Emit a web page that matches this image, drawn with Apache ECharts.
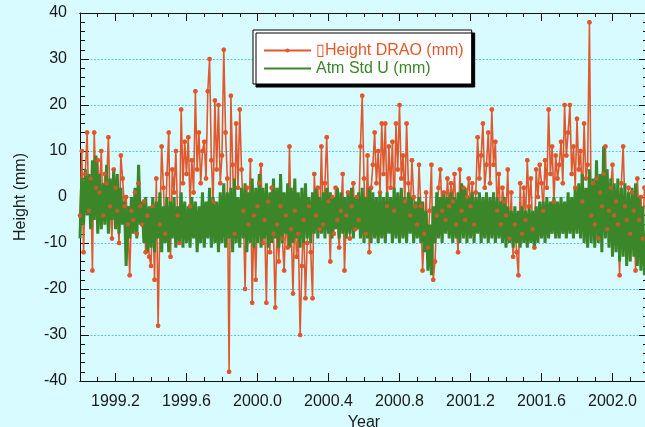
<!DOCTYPE html>
<html>
<head>
<meta charset="utf-8">
<script src="https://cdn.jsdelivr.net/npm/echarts@6/dist/echarts.min.js"></script>
<style>
html,body{margin:0;padding:0;background:#d8fbff;}
#chart{width:645px;height:427px;}
</style>
</head>
<body>
<div id="chart"></div>
<script>
// ---- data ----
const startYear = 1999.0;
const stepYear = 0.01;
const redName = '\u25AFHeight DRAO (mm)';
const greenName = 'Atm Std U (mm)';
const xTickLabels = [1999.2, 1999.6, 2000.0, 2000.4, 2000.8, 2001.2, 2001.6, 2002.0];
const yTickLabels = [-40, -30, -20, -10, 0, 10, 20, 30, 40];

const heightDRAO = [
  -4, 10, -12, 5, 14, -3, 4, -16, 14, 2,
  8, 1, 10, -4, 5, 3, 13, -2, -9, 6,
  2, -3, -10, 9, 4, -2, 0, -6, -17, -3,
  -5, 1, -8, 3, -2, -6, -1, -12, -4, -13,
  -15, -2, -18, 4, -28, -6, 11, 2, -8, 5,
  14, -13, 6, 1, 10, -4, -10, 19, 3, 12,
  5, 13, -2, 8, 1, 23, 6, 14, 3, 10,
  12, 4, 23, 30, 8, -1, 21, 6, 20, 3,
  9, 32, 14, 4, -38, 22, 7, -8, 16, 2,
  19, 6, -3, -20, 2, -6, 8, -23, -4, -18,
  -2, 3, 7, -10, -5, -23, -1, -12, 2, -8,
  -24, -6, -14, -2, -9, -16, -4, -11, 11, -7,
  -21, -3, -13, -8, -30, -15, -5, -22, -10, -2,
  -12, -22, 5, -4, 2, -7, 11, -6, 3, 13,
  -1, -14, 0, -8, 2, -5, -11, -3, 5, -16,
  -4, 1, -9, -2, 3, -7, 0, -5, 11, 22,
  4, -8, 9, -12, 2, 7, 14, 3, 10, 1,
  16, 5, 16, -2, 11, 2, 12, -3, 16, 6,
  20, 4, 9, -1, 16, 3, -4, 8, 0, -2,
  -6, 7, -2, -16, -8, 1, -11, -3, 7, -18,
  -14, -4, 2, 6, -3, 1, -5, 4, -2, 3,
  -1, 5, -6, -12, 6, -3, 2, -5, 0, 4,
  -2, 3, -6, 1, 13, 4, 9, 16, 2, 7,
  14, 3, 19, 7, 12, -3, 5, -6, 2, -1,
  -4, 6, -9, 1, -13, -6, -12, -17, 3, -8,
  2, -5, 8, -2, 4, -7, -11, 6, 0, 7,
  3, -3, 8, 2, 19, 5, 11, -1, 9, 4,
  7, 12, 3, 20, 9, 14, 20, 5, 11, 2,
  17, 6, 10, -1, 16, 4, 7, 38, -4, 3,
  -6, 4, -9, 1, -2, 5, 11, -7, -3, 2,
  7, -4, -1, -6, -17, 3, 11, -2, -5, 2,
  -8, 1, -3, -16, 4, -5, 0, -9, 2
];

const atmStdU = [
  -9, 4, -6, 6, -4, 5, -7, 8, -5, 9,
  -8, 5, -7, 3, -6, 7, -8, 4, -5, 6,
  -7, 5, -8, 2, -6, -1, -15, -2, -9, 0,
  -8, 2, -9, 7, -6, -1, -10, 0, -12, -2,
  -11, 0, -12, -1, -9, 1, -12, -2, -10, 0,
  -12, -1, -9, 0, -11, -2, -10, 1, -11, -1,
  -10, -2, -11, 0, -9, -1, -12, -2, -10, 1,
  -11, -1, -9, 2, -11, 0, -10, -1, -12, 1,
  -10, 3, -11, 1, -9, 2, -12, 4, -10, 0,
  -11, 2, -9, 3, -12, 1, -10, 4, -11, 2,
  -10, 5, -11, 2, -9, 3, -11, 1, -10, 4,
  -9, 2, -11, 5, -10, 1, -8, 3, -11, 2,
  -10, 4, -9, 1, -11, 2, -10, 3, -9, 0,
  -10, 1, -8, 2, -9, 0, -8, 1, -9, 2,
  -8, 1, -9, 0, -7, 2, -9, 1, -8, 0,
  -9, 1, -8, 2, -9, 0, -7, 1, -9, 2,
  -10, 0, -9, 2, -10, 1, -9, 0, -10, 1,
  -9, 0, -10, 1, -8, 0, -10, 2, -9, 1,
  -10, 2, -9, 0, -10, 1, -8, 0, -10, -1,
  -9, 0, -10, -1, -12, -3, -16, -6, -17, -2,
  -10, 1, -9, 0, -10, 1, -8, 0, -9, 1,
  -10, 0, -9, 1, -10, 3, -9, 2, -10, 0,
  -9, 1, -10, 0, -8, 1, -10, 0, -9, 1,
  -10, 0, -9, 1, -10, 0, -9, -1, -10, 0,
  -11, -2, -10, -3, -11, -2, -10, -3, -11, -2,
  -10, -3, -11, -2, -10, -3, -11, -2, -10, -1,
  -9, -1, -10, 0, -9, -1, -8, 0, -9, -1,
  -9, 0, -8, -1, -9, 1, -8, 0, -9, 2,
  -8, 3, -9, 5, -10, 2, -11, 6, -10, 4,
  -11, 8, -10, 5, -12, 11, -9, 6, -11, 4,
  -13, 3, -12, 4, -14, 2, -13, 3, -15, 1,
  -14, 2, -13, 3, -15, 0, -16, -2, -17
];

// ---- build ----
const toPairs = arr => arr.map((v, i) => [+(startYear + i * stepYear).toFixed(3), v]);
const redData = toPairs(heightDRAO);
const greenData = toPairs(atmStdU);
const minorX = [];
for (let k = 1; k <= 31; k++) minorX.push(+(1999 + k * 0.1).toFixed(1));

const FONT = '"Liberation Sans", Arial, Helvetica, sans-serif';
const RED = '#e0582c';
const GREEN = '#3b8628';
const XMIN = 1999.0, XMAX = 2002.2;

function xAx(pos, custom, len, labels) {
  return {
    type: 'value', position: pos, min: XMIN, max: XMAX,
    axisLine: { show: true, onZero: false, lineStyle: { color: '#111', width: 1 } },
    axisTick: { show: true, inside: true, length: len, customValues: custom, lineStyle: { color: '#111', width: 1 } },
    axisLabel: labels ? {
      show: true, customValues: xTickLabels, margin: 13,
      fontSize: 16, fontFamily: FONT, color: '#1a1a1a',
      formatter: v => v.toFixed(1)
    } : { show: false },
    splitLine: { show: false }
  };
}

const xAxes = [
  Object.assign(xAx('bottom', xTickLabels, 8, true), {
    name: 'Year', nameLocation: 'middle', nameGap: 22,
    nameTextStyle: { fontSize: 16, fontFamily: FONT, color: '#1a1a1a' }
  }),
  xAx('bottom', minorX, 4, false),
  xAx('top', xTickLabels, 8, false),
  xAx('top', minorX, 4, false)
];

function yAx(pos, main) {
  return {
    type: 'value', position: pos, min: -40, max: 40, interval: 10,
    axisLine: { show: true, onZero: false, lineStyle: { color: '#111', width: 1 } },
    axisTick: { show: true, inside: true, length: 9, lineStyle: { color: '#111' } },
    minorTick: { show: true, splitNumber: 5, length: 5, lineStyle: { color: '#111' } },
    axisLabel: main ? {
      show: true, margin: 13, fontSize: 16, fontFamily: FONT, color: '#1a1a1a',
      customValues: yTickLabels
    } : { show: false },
    splitLine: main ? { show: true, lineStyle: { color: '#5cc6e6', width: 1, type: [2, 1.5] } } : { show: false },
    name: main ? 'Height (mm)' : '',
    nameLocation: 'middle', nameGap: 51,
    nameTextStyle: { fontSize: 16, fontFamily: FONT, color: '#1a1a1a' }
  };
}

const chart = echarts.init(document.getElementById('chart'), null, { renderer: 'canvas' });
chart.setOption({
  animation: false,
  backgroundColor: '#d8fbff',
  grid: { left: 80, right: -3, top: 13, bottom: 46, containLabel: false, outerBoundsMode: 'none' },
  xAxis: xAxes,
  yAxis: [yAx('left', true), yAx('right', false)],
  legend: {
    orient: 'vertical', left: 253, top: 30,
    padding: [12, 8, 7, 10], itemWidth: 47, itemHeight: 5, itemGap: 1,
    backgroundColor: '#ffffff', borderColor: '#000', borderWidth: 1,
    shadowColor: '#000', shadowOffsetX: 3, shadowOffsetY: 3, shadowBlur: 0,
    textStyle: { fontSize: 16, fontFamily: FONT, lineHeight: 17 },
    data: [
      { name: redName, textStyle: { color: RED } },
      { name: greenName, textStyle: { color: GREEN }, itemStyle: { opacity: 0 } }
    ]
  },
  series: [
    {
      name: redName, type: 'line', data: redData, xAxisIndex: 0, yAxisIndex: 0,
      symbol: 'circle', symbolSize: 4.5, showSymbol: true, z: 2,
      lineStyle: { color: RED, width: 1.6 }, itemStyle: { color: RED }
    },
    {
      name: greenName, type: 'line', data: greenData, xAxisIndex: 0, yAxisIndex: 0,
      symbol: 'none', z: 3,
      lineStyle: { color: GREEN, width: 3 }, itemStyle: { color: GREEN }
    },
    {
      name: redName + ' pts', type: 'scatter', data: redData, xAxisIndex: 0, yAxisIndex: 0,
      symbol: 'circle', symbolSize: 4.5, z: 4, silent: true,
      itemStyle: { color: RED }
    }
  ]
});
</script>
</body>
</html>
